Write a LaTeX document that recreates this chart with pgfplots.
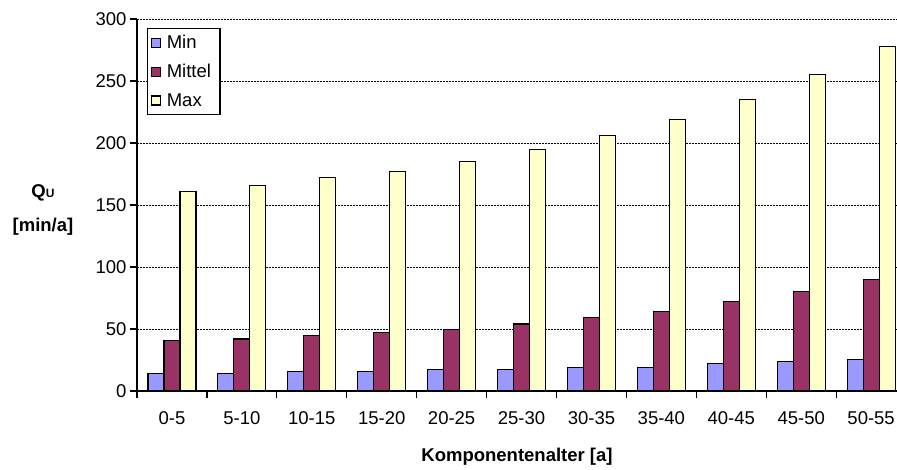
\documentclass[border=0pt]{standalone}
\usepackage{pgfplots}
\pgfplotsset{compat=1.18}
\usepackage{fontspec}
\setmainfont{Liberation Sans}
\definecolor{cmin}{HTML}{9999FF}
\definecolor{cmit}{HTML}{993366}
\definecolor{cmax}{HTML}{FFFFCC}
\newcommand{\fs}{\fontsize{18.5}{22}\selectfont}
\begin{document}
\begin{tikzpicture}
\useasboundingbox (-137pt,-78pt) rectangle (760pt,391pt);
\begin{axis}[
  at={(0pt,0pt)}, anchor=south west,
  scale only axis, width=760pt, height=372pt,
  xmin=-0.5, xmax=10.37, ymin=0, ymax=300,
  ybar=0pt, bar width=16pt,
  axis x line*=bottom, axis y line*=left,
  axis line style={line width=1.3pt, black},
  ytick={0,50,...,300},
  xtick={-0.5,0.5,...,9.5},
  xticklabels={0-5,5-10,10-15,15-20,20-25,25-30,30-35,35-40,40-45,45-50,50-55},
  xticklabel style={xshift=34.96pt, yshift=-10pt},
  tick align=outside, major tick length=7pt,
  tick style={line width=1.3pt, black},
  ymajorgrids, grid style={black, line width=1pt, dash pattern=on 2pt off 1pt},
  /pgf/number format/assume math mode=true,
  tick label style={font=\fs},
  every axis x label/.style={at={(axis description cs:0.5,0)}, anchor=center, yshift=-66pt, font=\fs\bfseries},
  xlabel={Komponentenalter [a]},
  every axis y label/.style={at={(axis description cs:0,0.487)}, anchor=center, xshift=-94pt, align=center, font=\fs\bfseries},
  ylabel={Q{\fontsize{12}{14}\selectfont U}\\[12pt][min/a]},
  legend style={at={(axis description cs:0.0132,0.976)}, anchor=north west, draw=black, line width=1.2pt, fill=white, font=\fs, inner xsep=3pt, inner ysep=5pt, row sep=10pt,
    nodes={inner xsep=6pt, inner ysep=2pt}},
  legend cell align=left,
  legend image code/.code={\draw[#1, line width=1.2pt] (0pt,-4.5pt) rectangle (9pt,4.5pt);},
]
\addplot[fill=cmin, draw=black, line width=1.2pt] coordinates {(0,14.4) (1,14.4) (2,15.5) (3,15.5) (4,17.3) (5,17.6) (6,18.7) (7,19.2) (8,22) (9,23.5) (10,25.6)};
\addplot[fill=cmit, draw=black, line width=1.2pt] coordinates {(0,40.5) (1,42) (2,44.5) (3,47) (4,49.6) (5,54) (6,59.5) (7,64.4) (8,72) (9,80) (10,90)};
\addplot[fill=cmax, draw=black, line width=1.2pt] coordinates {(0,161) (1,166) (2,172) (3,177) (4,185) (5,195) (6,206) (7,219) (8,235) (9,255) (10,278)};
\legend{Min,Mittel,Max}
\end{axis}
\end{tikzpicture}
\end{document}
